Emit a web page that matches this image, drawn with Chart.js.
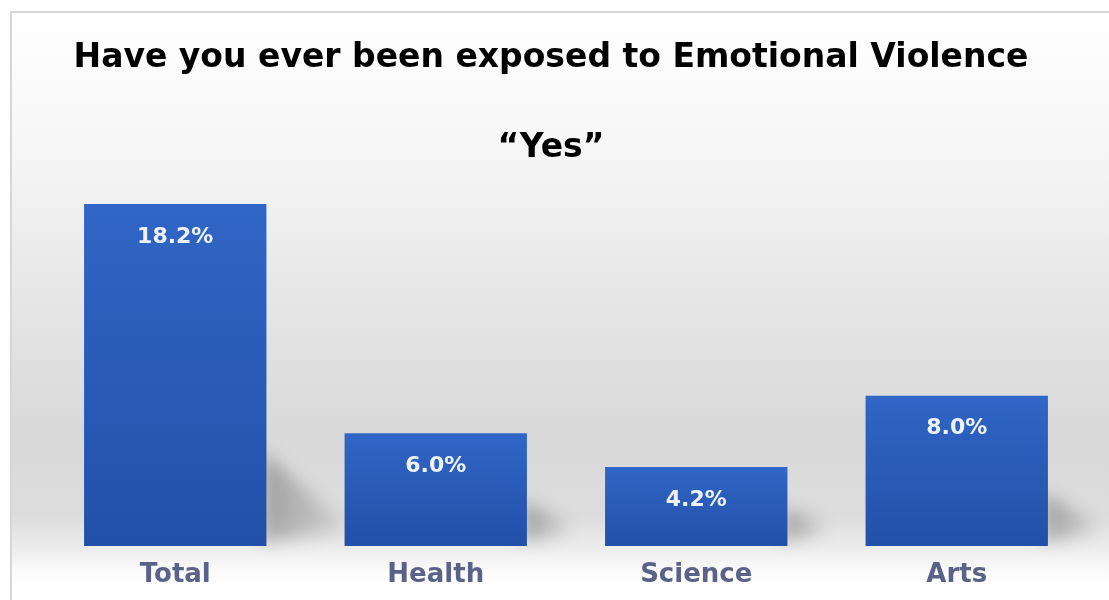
<!DOCTYPE html>
<html>
<head>
<meta charset="utf-8">
<script src="https://cdn.jsdelivr.net/npm/chart.js@4"></script>
<style>
  html, body { margin: 0; padding: 0; background: #ffffff; }
  #wrap { width: 1109px; height: 600px; position: relative; }
</style>
</head>
<body>
<div id="wrap"><canvas id="chart" width="1109" height="600"></canvas></div>
<script>
// Chart data
const categories = ['Total', 'Health', 'Science', 'Arts'];
const yesPercent = [18.2, 6.0, 4.2, 8.0];
const chartTitle = 'Have you ever been exposed to Emotional Violence';
const chartSubtitle = '\u201CYes\u201D';

const FONT = '"DejaVu Sans", Verdana, sans-serif';

// Grey studio-style backdrop and thin frame
const backdropPlugin = {
  id: 'backdrop',
  beforeDraw(chart) {
    const { ctx, width, height } = chart;
    ctx.save();
    ctx.fillStyle = '#ffffff';
    ctx.fillRect(0, 0, width, height);
    const g = ctx.createLinearGradient(0, 12, 0, 588);
    const stop = y => (y - 12) / 576;
    g.addColorStop(0, '#ffffff');
    g.addColorStop(stop(150), '#f6f6f6');
    g.addColorStop(stop(260), '#eaeaea');
    g.addColorStop(stop(430), '#d9d9d9');
    g.addColorStop(stop(515), '#dcdcdc');
    g.addColorStop(stop(548), '#ececec');
    g.addColorStop(stop(572), '#fbfbfb');
    g.addColorStop(1, '#ffffff');
    ctx.fillStyle = g;
    ctx.fillRect(11, 12, width - 11, height - 12);
    ctx.strokeStyle = '#d6d6d6';
    ctx.lineWidth = 2;
    ctx.beginPath();
    ctx.moveTo(11, height);
    ctx.lineTo(11, 12);
    ctx.lineTo(width, 12);
    ctx.stroke();
    ctx.restore();
  }
};

// Soft floor shadow to the right of each bar
const barShadowPlugin = {
  id: 'barShadow',
  beforeDatasetsDraw(chart) {
    const { ctx } = chart;
    const meta = chart.getDatasetMeta(0);
    ctx.save();
    ctx.filter = 'blur(8px)';
    meta.data.forEach(bar => {
      const right = bar.x + bar.width / 2;
      const bottom = bar.base;
      const h = bottom - bar.y;
      const reach = Math.min(85, 25 + h * 0.15);
      const rise = Math.min(95, 20 + h * 0.22);
      const g = ctx.createLinearGradient(right, 0, right + reach, 0);
      g.addColorStop(0, 'rgba(0,0,0,0.26)');
      g.addColorStop(1, 'rgba(0,0,0,0.06)');
      ctx.fillStyle = g;
      ctx.beginPath();
      ctx.moveTo(right - 4, bottom - rise);
      ctx.lineTo(right + reach, bottom - 24);
      ctx.lineTo(right + reach, bottom - 12);
      ctx.lineTo(right - 4, bottom - 4);
      ctx.closePath();
      ctx.fill();
    });
    ctx.restore();
  }
};

// Value labels inside the top of each bar
const valueLabelPlugin = {
  id: 'valueLabels',
  afterDatasetsDraw(chart) {
    const { ctx } = chart;
    const meta = chart.getDatasetMeta(0);
    ctx.save();
    ctx.font = 'bold 22px ' + FONT;
    ctx.fillStyle = '#eef2fb';
    ctx.textAlign = 'center';
    ctx.textBaseline = 'middle';
    meta.data.forEach((bar, i) => {
      ctx.fillText(yesPercent[i].toFixed(1) + '%', bar.x, bar.y + 33);
    });
    ctx.restore();
  }
};

function barGradient(context) {
  const chart = context.chart;
  const { chartArea, scales } = chart;
  if (!chartArea || !scales.y || context.raw === undefined) return '#2a5bb8';
  const top = scales.y.getPixelForValue(context.raw);
  const bottom = scales.y.getPixelForValue(0);
  const g = chart.ctx.createLinearGradient(0, top, 0, bottom);
  g.addColorStop(0, '#3066c6');
  g.addColorStop(1, '#2250a8');
  return g;
}

const chart = new Chart(document.getElementById('chart').getContext('2d'), {
  type: 'bar',
  data: {
    labels: categories,
    datasets: [{
      label: 'Yes',
      data: yesPercent,
      backgroundColor: barGradient,
      borderWidth: 0,
      barPercentage: 0.7,
      categoryPercentage: 1.0
    }]
  },
  options: {
    responsive: false,
    animation: false,
    layout: { padding: { left: 15, right: 22, top: 0, bottom: 0 } },
    scales: {
      x: {
        grid: { display: false },
        border: { display: false },
        afterFit(scale) { scale.height = 54; },
        ticks: {
          color: '#5b6287',
          padding: 6,
          font: { family: FONT, size: 26, weight: 'bold' }
        }
      },
      y: {
        display: true,
        min: 0,
        max: 20,
        grid: { display: false },
        border: { display: false },
        ticks: { display: false },
        afterFit(scale) { scale.width = 30; }
      }
    },
    plugins: {
      legend: { display: false },
      tooltip: { enabled: false },
      title: {
        display: true,
        text: chartTitle,
        color: '#000000',
        font: { family: FONT, size: 33, weight: 'bold' },
        padding: { top: 39, bottom: 50 }
      },
      subtitle: {
        display: true,
        text: chartSubtitle,
        color: '#000000',
        font: { family: FONT, size: 33, weight: 'bold' },
        padding: { top: 0, bottom: 2 }
      }
    }
  },
  plugins: [backdropPlugin, barShadowPlugin, valueLabelPlugin]
});
</script>
</body>
</html>
